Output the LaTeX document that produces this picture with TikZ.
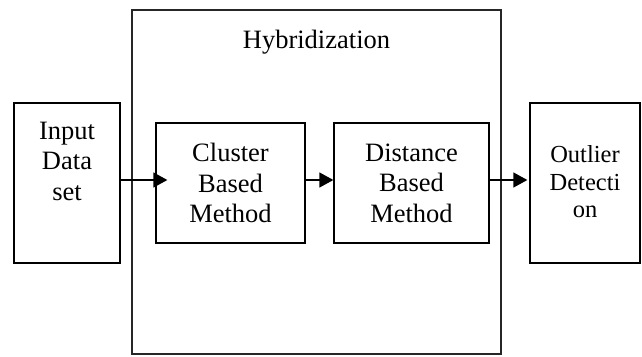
\documentclass[tikz,border=0pt]{standalone}
\usepackage{fontspec}
\setmainfont{Liberation Serif}
\usetikzlibrary{arrows.meta}
\begin{document}
\begin{tikzpicture}[x=1pt,y=-1pt,
  lbl/.style={font=\fontsize{26.5}{30.5}\selectfont,align=center,inner sep=0pt},
  boxline/.style={draw=black,line width=1.3pt,inner sep=0pt},
  flow/.style={line width=1.3pt,-{Triangle[length=14pt,width=15pt]}}]
\useasboundingbox (0,0) rectangle (642,356);
% enclosing stage
\node[draw=black!85,line width=1.4pt,minimum width=369pt,minimum height=344pt,inner sep=0pt] (hyb) at (316.5,182) {};
\node[lbl] (hybt) at (316.5,42) {Hybridization};
% boxes
\node[boxline,minimum width=106pt,minimum height=160pt] (in) at (67,183) {};
\node[lbl] (intx) at (67,161) {Input\\Data\\set};
\node[boxline,minimum width=149pt,minimum height=120pt,lbl] (cl) at (230.5,183) {Cluster\\Based\\Method};
\node[boxline,minimum width=155pt,minimum height=120pt,lbl] (di) at (411.5,183) {Distance\\Based\\Method};
\node[boxline,minimum width=110pt,minimum height=160pt] (ou) at (585,183) {};
\node[align=center,inner sep=0pt,font=\fontsize{24.5}{27.5}\selectfont] (outx) at (585,182) {Outlier\\Detecti\\on};
% connectors
\draw[flow,shorten >=-12pt] ([yshift=3pt]in.east) -- ([yshift=3pt]cl.west);
\draw[flow] ([yshift=3pt]cl.east) -- ([yshift=3pt]di.west);
\draw[flow,shorten >=2pt] ([yshift=3pt]di.east) -- ([yshift=3pt]ou.west);
\end{tikzpicture}
\end{document}
